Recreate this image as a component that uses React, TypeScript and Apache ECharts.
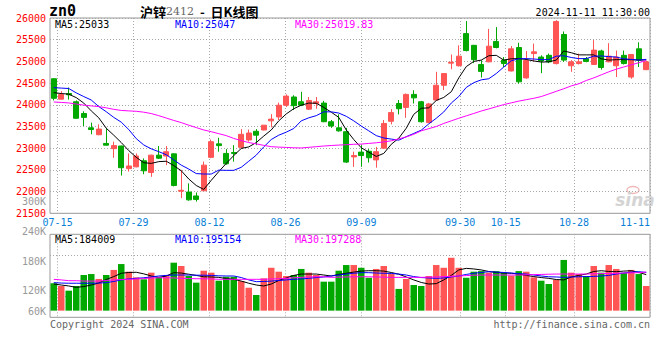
import React, { useEffect, useRef } from 'react';
import * as echarts from 'echarts';

const dates = ['07-12','07-15','07-16','07-17','07-18','07-19','07-22','07-23','07-24','07-25','07-26','07-29','07-30','07-31','08-01','08-02','08-05','08-06','08-07','08-08','08-09','08-12','08-13','08-14','08-15','08-16','08-19','08-20','08-21','08-22','08-23','08-26','08-27','08-28','08-29','08-30','09-02','09-03','09-04','09-05','09-06','09-09','09-10','09-11','09-12','09-13','09-18','09-19','09-20','09-23','09-24','09-25','09-26','09-27','09-30','10-08','10-09','10-10','10-11','10-14','10-15','10-16','10-17','10-18','10-21','10-22','10-23','10-24','10-25','10-28','10-29','10-30','10-31','11-01','11-04','11-05','11-06','11-07','11-08','11-11'];

const xLabelDates = ['07-15','07-29','08-12','08-26','09-09','09-30','10-15','10-28','11-11'];

const openP = [24600,24130,24260,24070,23800,23470,23310,23110,22990,23050,
22530,22570,22710,22440,22840,22820,22870,22010,21990,21900,
22020,22790,23100,22880,22900,23020,23190,23390,23420,23630,
23720,23990,24180,24070,23900,24030,24040,23610,23470,23380,
22800,22910,22930,22730,23000,23620,24030,23940,24240,24070,
23590,24110,24450,24960,24900,25640,25370,24930,24990,25460,
25030,24780,25320,24620,25180,25100,25140,24950,25620,24900,
24950,25060,24930,25240,24990,24900,25140,24640,25290,24810];
const closeP = [24150,24236,24230,23690,23710,23430,23440,23070,23060,22550,
22590,22820,22480,22840,22770,22920,22140,22030,21810,21820,
22610,23150,23060,22640,22880,23320,23350,23300,23530,23670,
23990,24200,23980,23990,24100,24070,23610,23510,23400,22680,
22830,22830,22780,22920,23570,23820,23910,24240,24160,23610,
24020,24450,24720,24980,25120,25250,25040,24770,25350,25320,
24950,25290,24530,25020,25220,25010,24990,25920,25030,24990,
24990,25000,25260,24860,25120,25100,24950,25160,25030,24990];
const lowP = [24100,24120,24120,23680,23510,23320,23300,23060,22780,22370,
22460,22560,22400,22340,22750,22610,22120,21850,21790,21770,
22020,22770,22920,22620,22690,22990,23150,23070,23410,23480,
23650,23950,23880,23970,23880,23910,23600,23470,23380,22660,
22570,22570,22670,22550,22990,23550,23780,23700,24030,23590,
23580,24100,24340,24820,24880,25230,24960,24627,24980,25300,
24870,24770,24490,24600,25000,24730,24960,24930,24990,24760,
24930,24980,24920,24810,24980,24640,24930,24600,24870,24800];
const highP = [24610,24313,24400,24100,23850,23590,23550,23470,23150,23060,
22880,22880,22765,22850,23050,23050,22880,22500,22190,21980,
22690,23200,23240,22980,23070,23440,23430,23440,23530,23785,
24050,24240,24220,24300,24180,24180,24090,23650,23780,23470,
22920,23070,22980,23030,23650,23900,24110,24260,24335,24090,
24045,24760,24720,25160,25370,25930,25380,25025,25750,25790,
25100,25355,25430,25240,25410,25140,25180,25950,25690,25030,
25180,25100,25490,25270,25420,25250,25250,25170,25440,25010];

const ma5 = [24280,24260,24245,24165,24040,23860,23700,23460,23300,23130,
22945,22790,22665,22650,22690,22700,22600,22480,22290,22140,
22050,22260,22460,22650,22830,22995,23030,23130,23280,23420,
23630,23790,23910,23990,24040,24035,23940,23830,23710,23420,
23200,23010,22910,22810,22880,23090,23230,23460,23780,23920,
23930,24100,24170,24300,24620,24880,25000,25030,25130,25140,
25030,25060,25065,25045,25010,24985,24990,25030,25240,25200,
25150,25150,25150,25060,25030,25040,25040,25040,25030,25033];
const ma10 = [24395,24385,24375,24275,24190,24110,23960,23840,23710,23600,
23430,23220,23075,22985,22920,22850,22730,22610,22520,22415,
22405,22405,22495,22490,22490,22560,22700,22840,23030,23200,
23300,23370,23454,23630,23700,23750,23838,23838,23810,23735,
23630,23510,23400,23290,23235,23210,23185,23265,23340,23416,
23560,23690,23835,24040,24190,24400,24510,24575,24600,24720,
24870,25015,25060,25064,25055,25041,25041,25120,25130,25090,
25064,25064,25120,25125,25110,25100,25060,25045,25030,25047];
const ma30 = [24065,24055,24043,24018,23992,23975,23958,23930,23895,23870,
23860,23850,23830,23798,23750,23695,23640,23590,23530,23475,
23420,23380,23335,23290,23225,23175,23130,23100,23065,23035,
23025,23018,23010,23005,23020,23035,23050,23062,23072,23080,
23090,23095,23110,23125,23145,23170,23215,23260,23320,23400,
23450,23500,23570,23630,23690,23745,23800,23857,23905,23955,
24005,24045,24085,24118,24150,24190,24250,24310,24370,24435,
24485,24560,24620,24690,24760,24820,24872,24920,24970,25019.83];

const volumes = [140000,126000,102000,126000,182000,187000,162000,182000,208000,238000,
199000,170000,160000,194000,170000,182000,245000,228000,177000,143000,
204000,194000,153000,173000,173000,151000,117000,80000,165000,219000,
199000,177000,182000,213000,194000,182000,148000,148000,204000,233000,
233000,219000,168000,213000,228000,187000,111000,162000,131000,126000,
177000,233000,219000,270000,219000,168000,199000,202000,194000,202000,
194000,179000,202000,199000,170000,153000,136000,157000,259000,194000,
187000,177000,228000,194000,233000,213000,194000,208000,187000,126000];
const vma5 = [136000,131000,126000,119000,123000,131000,141000,159000,174000,191000,
195000,196000,188000,177000,170000,177000,194000,192000,186000,180000,
173000,172000,170000,164000,160000,151000,140000,131000,126000,136000,
154000,167000,180000,187000,187000,187000,182000,177000,185000,191000,
197000,202000,204000,204000,202000,195000,186000,172000,157000,144000,
136000,138000,157000,180000,208000,216000,213000,208000,200000,195000,
192000,191000,187000,180000,174000,169000,165000,159000,157000,172000,
180000,187000,200000,204000,200000,199000,202000,204000,195000,184009];
const vma10 = [143000,141000,140000,140000,140000,140000,141000,143000,149000,157000,
162000,165000,168000,172000,177000,180000,182000,182000,182000,181000,
181000,180000,178000,177000,177000,169000,157000,148000,149000,151000,
154000,157000,160000,162000,165000,169000,172000,177000,182000,187000,
191000,194000,194000,192000,191000,190000,187000,182000,174000,169000,
167000,165000,167000,172000,177000,185000,191000,195000,199000,197000,
195000,192000,189000,187000,182000,177000,173000,172000,170000,172000,
173000,174000,175000,177000,180000,187000,192000,197000,199000,195154];
const vma30 = [160000,157000,153000,153000,151000,151000,151000,154000,157000,159000,
160000,162000,164000,167000,168000,168000,167000,165000,164000,163000,
163000,162000,160000,160000,160000,160000,160000,160000,160000,162000,
163000,165000,168000,170000,172000,173000,173000,170000,171000,172000,
173000,173000,173000,172000,171000,170000,170000,170000,170000,170000,
171000,172000,174000,175000,177000,179000,181000,182000,182000,182000,
182000,182000,182000,183000,184000,185000,186000,187000,187000,187000,
187000,187000,188000,189000,190000,191000,192000,193000,194000,197288];

const priceLegend = ['MA5:25033', 'MA10:25047', 'MA30:25019.83'];
const volLegend = ['MA5:184009', 'MA10:195154', 'MA30:197288'];
const volAxisLabels = ['300K', '240K', '180K', '120K', '60K'];

const RED = '#ff5555';
const GREEN = '#00a800';
const BLUE_TXT = '#0a7fd8';
const MONO = 'DejaVu Sans Mono';
const GRIDC = '#a8a8a8';
const MA_COLORS = ['#000000', '#0000ff', '#ff00ff'];

export default function App() {
  const ref = useRef<HTMLDivElement>(null);
  useEffect(() => {
    const chart = echarts.init(ref.current as HTMLDivElement, null, { renderer: 'svg' });
    const labelSet = new Set(xLabelDates);
    const showLbl = (_i: number, v: string) => labelSet.has(v);
    const candles = dates.map((_, i) => [openP[i], closeP[i], lowP[i], highP[i]]);
    const volData = volumes.map((v, i) => ({
      value: v,
      itemStyle: { color: closeP[i] >= openP[i] ? RED : GREEN },
    }));
    const dotted = { color: GRIDC, type: [1, 2] as any, width: 1 };
    const lineSeries = (data: number[], c: string, xi: number, yi: number) => ({
      type: 'line', data, xAxisIndex: xi, yAxisIndex: yi, symbol: 'none', showSymbol: false,
      lineStyle: { color: c, width: 1 }, z: 5, silent: true,
    });
    const volLblY = [201, 231, 261, 290, 311];
    const graphic: any[] = [
      { type: 'text', x: 49, y: 11, style: { text: 'zn0', font: 'bold 15px "DejaVu Sans Mono"', fill: '#000', textVerticalAlign: 'middle' } },
      { type: 'text', x: 140, y: 11, style: {
        text: '{c|沪锌}{n|2412}{c|  -  日K线图}',
        textVerticalAlign: 'middle',
        rich: {
          c: { fontFamily: 'Noto Sans CJK SC', fontSize: 13, fill: '#000', fontWeight: 'bold' },
          n: { fontFamily: 'DejaVu Serif', fontSize: 11, fill: '#666' },
        },
      } },
      { type: 'text', x: 650, y: 12, style: { text: '2024-11-11 11:30:00', font: '10px "DejaVu Sans Mono"', fill: '#000', textAlign: 'right', textVerticalAlign: 'middle' } },
      ...priceLegend.map((t, i) => ({ type: 'text', x: 55 + i * 120, y: 24, z: 10, style: { text: t, font: '10px "DejaVu Sans Mono"', fill: MA_COLORS[i], textVerticalAlign: 'middle' } })),
      ...volLegend.map((t, i) => ({ type: 'text', x: 55 + i * 120, y: 239, z: 10, style: { text: t, font: '10px "DejaVu Sans Mono"', fill: MA_COLORS[i], textVerticalAlign: 'middle' } })),
      ...volAxisLabels.map((t, i) => ({ type: 'text', x: 46, y: volLblY[i], style: { text: t, font: '10px "DejaVu Sans Mono"', fill: '#999', textAlign: 'right', textVerticalAlign: 'middle' } })),
      { type: 'text', x: 50, y: 324, style: { text: 'Copyright 2024 SINA.COM', font: '10px "DejaVu Sans Mono"', fill: '#666', textVerticalAlign: 'middle' } },
      { type: 'text', x: 650, y: 324, style: { text: 'http://finance.sina.com.cn', font: '10px "DejaVu Sans Mono"', fill: '#666', textAlign: 'right', textVerticalAlign: 'middle' } },
      { type: 'ellipse', shape: { cx: 633, cy: 190, rx: 6, ry: 3.5 }, style: { fill: 'none', stroke: '#f0b8b8', lineWidth: 1.5 } },
      { type: 'text', x: 635, y: 200, style: { text: 'sina', font: 'italic bold 17px "DejaVu Sans"', fill: '#d4d4d4', textAlign: 'center', textVerticalAlign: 'middle' } },
    ];
    chart.setOption({
      animation: false,
      backgroundColor: '#ffffff',
      grid: [
        { left: 50, width: 600, top: 18, height: 195.3, show: true, borderColor: '#999', borderWidth: 1, backgroundColor: 'transparent' },
        { left: 50, width: 600, top: 234.3, height: 83, show: true, borderColor: '#999', borderWidth: 1, backgroundColor: 'transparent' },
      ],
      xAxis: [
        { type: 'category', gridIndex: 0, position: 'bottom', data: dates, boundaryGap: true, show: false },
        { type: 'category', gridIndex: 0, position: 'bottom', offset: 0, data: dates, boundaryGap: false,
          axisLine: { show: false }, axisTick: { show: false },
          axisLabel: { interval: showLbl, color: BLUE_TXT, fontFamily: MONO, fontSize: 10, margin: 4, alignMaxLabel: 'right' },
          splitLine: { show: true, interval: showLbl, lineStyle: dotted } },
        { type: 'category', gridIndex: 1, position: 'bottom', data: dates, boundaryGap: true, show: false },
        { type: 'category', gridIndex: 1, position: 'bottom', offset: 0, data: dates, boundaryGap: false,
          axisLine: { show: false }, axisTick: { show: false }, axisLabel: { show: false },
          splitLine: { show: true, interval: showLbl, lineStyle: dotted } },
      ],
      yAxis: [
        { type: 'value', gridIndex: 0, position: 'left', min: 21500, max: 26000, interval: 500,
          axisLine: { show: false }, axisTick: { show: false },
          axisLabel: { color: '#ff0000', fontFamily: MONO, fontSize: 10, margin: 4, formatter: (v: number) => String(v) },
          splitLine: { show: true, lineStyle: dotted } },
        { type: 'value', gridIndex: 1, position: 'left', min: -34000, max: 390000,
          axisLine: { show: false }, axisTick: { show: false }, axisLabel: { show: false }, splitLine: { show: false } },
        { type: 'category', gridIndex: 1, position: 'left', offset: 0, data: ['', '', '', ''], boundaryGap: true,
          axisLine: { show: false }, axisTick: { show: false }, axisLabel: { show: false },
          splitLine: { show: true, interval: (i: number) => i % 2 === 1, lineStyle: dotted } },
      ],
      series: [
        { type: 'candlestick', xAxisIndex: 0, yAxisIndex: 0, data: candles, barWidth: 5.5, silent: true,
          itemStyle: { color: RED, color0: GREEN, borderColor: RED, borderColor0: GREEN, borderWidth: 1 } },
        lineSeries(ma5, MA_COLORS[0], 0, 0),
        lineSeries(ma10, MA_COLORS[1], 0, 0),
        lineSeries(ma30, MA_COLORS[2], 0, 0),
        { type: 'bar', xAxisIndex: 2, yAxisIndex: 1, data: volData, barWidth: 6.5, silent: true },
        lineSeries(vma5, MA_COLORS[0], 2, 1),
        lineSeries(vma10, MA_COLORS[1], 2, 1),
        lineSeries(vma30, MA_COLORS[2], 2, 1),
      ],
      graphic,
    });
    return () => chart.dispose();
  }, []);
  return <div ref={ref} style={{ position: 'absolute', left: 0, top: 0, width: 660, height: 360 }} />;
}
